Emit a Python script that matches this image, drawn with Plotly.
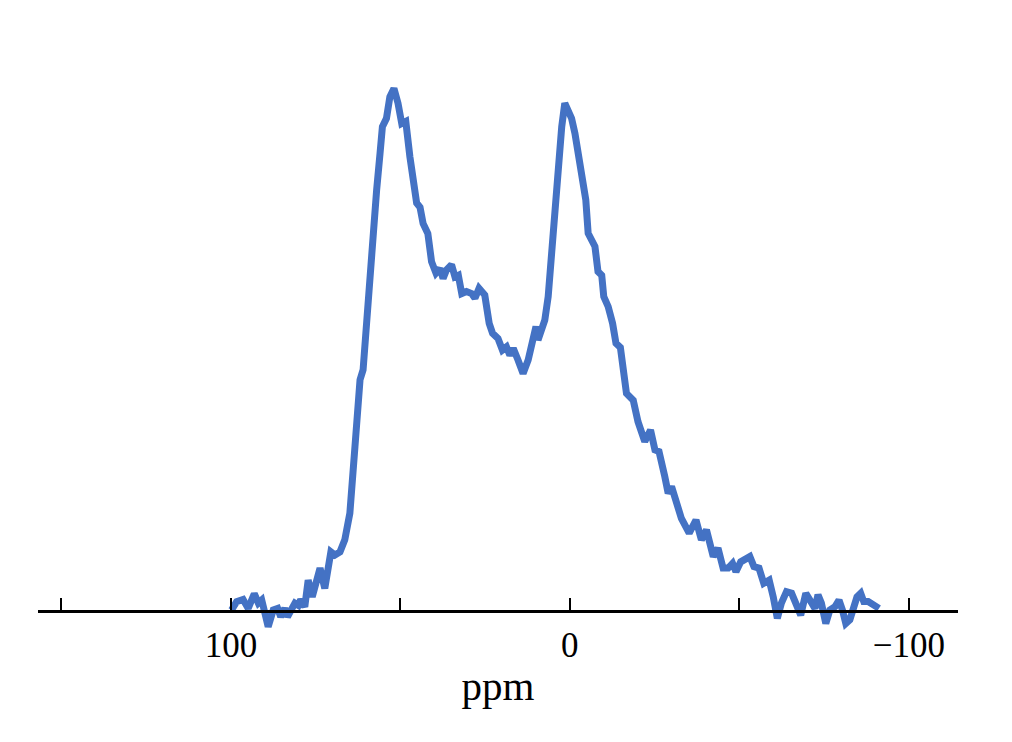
import plotly.graph_objects as go

# Chemical shift (ppm) and intensity (arbitrary units, tallest peak ~100)
ppm = [99.8, 98.3, 96.4, 94.9, 93.1, 91.9, 90.9, 90.0, 89.0, 87.5, 86.2, 85.3, 84.1, 83.3, 82.1,
       81.1, 80.1, 79.4, 78.2, 77.2, 76.0, 73.7, 72.3, 70.5, 69.3, 67.8, 66.4, 64.9, 63.4, 61.9,
       61.0, 60.0, 59.0, 58.0, 57.0, 56.0, 55.3, 54.1, 53.1, 51.9, 50.7, 49.6, 48.4, 47.2, 46.2,
       45.2, 44.2, 43.3, 41.9, 40.8, 39.5, 38.3, 37.4, 36.4, 34.9, 33.9, 32.9, 31.9, 30.5, 29.0,
       28.0, 26.8, 25.1, 23.8, 22.8, 21.2, 19.9, 18.7, 17.7, 16.7, 15.3, 13.8, 12.3, 10.8, 10.0,
       9.4, 8.3, 7.4, 6.4, 5.4, 4.4, 3.5, 2.4, 1.5, 0.5, -0.5, -1.5, -2.4, -3.2, -3.9,
       -4.7, -5.4, -6.4, -7.4, -8.3, -9.4, -10.0, -11.3, -12.6, -13.6, -14.9, -16.7, -18.7, -20.1, -22.1,
       -23.8, -25.1, -26.3, -28.0, -29.0, -30.0, -31.3, -32.9, -35.2, -37.2, -38.8, -40.3, -42.3, -43.7, -45.2,
       -46.7, -48.0, -49.0, -50.4, -51.9, -53.1, -54.3, -55.8, -57.2, -58.8, -60.0, -61.2, -62.4, -63.9, -65.4,
       -66.9, -68.1, -69.6, -71.0, -72.3, -73.2, -74.2, -75.5, -76.7, -78.2, -79.4, -80.4, -81.4, -82.6, -83.6,
       -84.7, -85.8, -86.7, -88.0, -89.5, -91.2]

intensity = [0.2, 1.8, 2.2, 0.5, 3.3, 1.5, 2.1, -0.8, -3.0, 0.2, 0.5, -1.1, 0.5, -1.1, 0.5,
             1.5, 1.1, 2.2, 0.8, 5.9, 2.7, 8.2, 4.3, 11.3, 10.7, 11.3, 13.6, 18.7, 31.4, 44.2,
             46.1, 55.6, 63.3, 71.6, 80.5, 87.5, 92.6, 94.2, 98.3, 99.9, 97.1, 93.2, 93.6, 86.9, 81.5,
             78.0, 77.2, 74.1, 72.2, 66.8, 64.6, 65.5, 63.6, 65.2, 66.2, 63.9, 64.2, 60.7, 61.1, 60.7,
             59.8, 61.7, 60.4, 55.0, 53.1, 52.1, 49.9, 50.5, 48.9, 50.2, 48.0, 45.4, 48.0, 51.8, 54.4,
             51.8, 54.4, 55.6, 60.1, 68.4, 77.3, 85.6, 92.6, 97.1, 95.8, 94.2, 91.3, 88.1, 84.3, 82.4,
             78.6, 72.2, 70.9, 69.7, 64.9, 64.2, 60.1, 58.2, 55.0, 51.2, 50.4, 41.6, 40.3, 36.2, 32.4,
             34.6, 30.8, 30.5, 25.7, 22.5, 23.8, 21.2, 17.7, 14.9, 17.4, 13.6, 15.5, 10.4, 12.0, 8.2,
             8.2, 9.1, 7.5, 9.4, 9.8, 10.4, 8.5, 8.2, 5.3, 5.9, 2.7, -1.4, 1.5, 3.7, 3.4,
             1.1, -0.8, 3.4, 1.5, 0.5, 3.1, 1.5, -2.4, 0.2, 0.8, 2.1, 0.2, -2.4, -1.7, 1.1,
             2.7, 3.4, 1.8, 1.8, 1.1, 0.5]

tick_vals = [150, 100, 50, 0, -50, -100]
tick_text = ["", "100", "", "0", "", "\u2212100"]

fig = go.Figure()
fig.add_trace(go.Scatter(
    x=ppm, y=intensity, mode="lines",
    line=dict(color="#4472C4", width=7, shape="linear"),
    showlegend=False, hoverinfo="skip",
))

fig.update_layout(
    width=1012, height=742,
    margin=dict(l=30, r=62, t=32, b=90),
    paper_bgcolor="white", plot_bgcolor="white",
    font=dict(family="Liberation Serif, Times New Roman, serif", color="black"),
    xaxis=dict(
        range=[156.9, -114.5],
        anchor="free", position=0.0790,
        showline=True, linecolor="black", linewidth=2.5,
        showgrid=False, zeroline=False,
        ticks="inside", ticklen=12, tickwidth=2, tickcolor="black",
        tickvals=tick_vals, ticktext=tick_text,
        tickfont=dict(size=35),
        ticklabelstandoff=2,
        title=dict(text="ppm", font=dict(size=41), standoff=7),
    ),
    yaxis=dict(
        range=[-9.37, 109.18],
        visible=False, showgrid=False, zeroline=False,
    ),
)

fig.write_html("out.html")
